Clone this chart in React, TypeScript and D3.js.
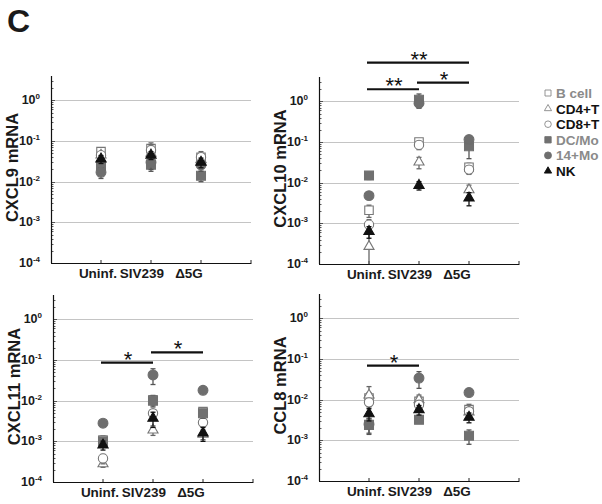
import React, { useEffect, useRef } from "react";
import * as d3 from "d3";

// groups on the x axis
const groups = ["Uninf.", "SIV239", "Δ5G"];
const groupLabelShift = [-3, -9, -12];

// cell types (legend order = draw order)
const cellTypes = ["B cell", "CD4+T", "CD8+T", "DC/Mo", "14+Mo", "NK"];

// mean values, one row per cell type, columns = groups
const cxcl9Mean = [
  [0.055, 0.065, 0.04],
  [0.045, 0.05, 0.035],
  [0.045, 0.06, 0.04],
  [0.025, 0.026, 0.014],
  [0.017, 0.03, 0.026],
  [0.036, 0.045, 0.03],
];
const cxcl9Sem = [
  [0.008, 0.025, 0.015],
  [0.01, 0.01, 0.01],
  [0.01, 0.02, 0.01],
  [0.01, 0.008, 0.004],
  [0.005, 0.01, 0.008],
  [0.008, 0.01, 0.008],
];

const cxcl10Mean = [
  [0.0021, 0.1, 0.024],
  [0.00027, 0.032, 0.0067],
  [0.00093, 0.085, 0.021],
  [0.015, 1.1, 0.079],
  [0.0048, 0.9, 0.115],
  [0.00063, 0.0086, 0.0042],
];
const cxcl10Sem = [
  [0.0007, 0.02, 0.006],
  [0.0004, 0.01, 0.002],
  [0.0003, 0.02, 0.005],
  [0.003, 0.42, 0.04],
  [0.0005, 0.2, 0.01],
  [0.0002, 0.002, 0.0015],
];

const cxcl11Mean = [
  [0.00108, 0.0105, 0.0054],
  [0.00028, 0.0019, 0.0015],
  [0.00038, 0.0049, 0.0029],
  [0.001, 0.01, 0.0049],
  [0.0028, 0.043, 0.018],
  [0.00081, 0.0037, 0.0016],
];
const cxcl11Sem = [
  [0.0003, 0.003, 0.001],
  [0.00005, 0.0005, 0.0004],
  [0.0001, 0.001, 0.0005],
  [0.0002, 0.003, 0.0012],
  [0.0003, 0.018, 0.002],
  [0.0002, 0.0015, 0.0006],
];

const ccl8Mean = [
  [0.011, 0.0091, 0.0057],
  [0.013, 0.01, 0.005],
  [0.0086, 0.0075, 0.0052],
  [0.0024, 0.0032, 0.0013],
  [0.0025, 0.034, 0.015],
  [0.0045, 0.0057, 0.0037],
];
const ccl8Sem = [
  [0.004, 0.003, 0.002],
  [0.008, 0.003, 0.001],
  [0.002, 0.002, 0.001],
  [0.001, 0.0005, 0.0005],
  [0.001, 0.015, 0.002],
  [0.0015, 0.0015, 0.001],
];

// significance brackets: group index from/to, height in data units
const cxcl9Sig = [];
const cxcl10Sig = [
  { from: 0, to: 2, level: 8.95, label: "**" },
  { from: 0, to: 1, level: 1.99, label: "**" },
  { from: 1, to: 2, level: 2.88, label: "*" },
];
const cxcl11Sig = [
  { from: 0, to: 1, level: 0.086, label: "*" },
  { from: 1, to: 2, level: 0.155, label: "*" },
];
const ccl8Sig = [{ from: 0, to: 1, level: 0.0687, label: "*" }];

const yTicks = [1e-4, 1e-3, 1e-2, 1e-1, 1];
const gridTicks = [1e-3, 1e-2, 1e-1, 1];

const FONT = "'Liberation Sans', Arial, Helvetica, sans-serif";

const styles = [
  { shape: d3.symbolSquare, fill: "#fff", stroke: "#777", err: "#666", size: 72, legendColor: "#8a8a8a" },
  { shape: d3.symbolTriangle, fill: "#fff", stroke: "#777", err: "#666", size: 44, legendColor: "#111" },
  { shape: d3.symbolCircle, fill: "#fff", stroke: "#777", err: "#666", size: 68, legendColor: "#111" },
  { shape: d3.symbolSquare, fill: "#707070", stroke: "#707070", err: "#555", size: 80, legendColor: "#8a8a8a" },
  { shape: d3.symbolCircle, fill: "#6e6e6e", stroke: "#6e6e6e", err: "#555", size: 76, legendColor: "#8a8a8a" },
  { shape: d3.symbolTriangle, fill: "#111", stroke: "#111", err: "#111", size: 46, legendColor: "#111" },
];

const panels = [
  { title: "CXCL9 mRNA", mean: cxcl9Mean, sem: cxcl9Sem, sig: cxcl9Sig, left: 51, top: 76, bottom: 263 },
  { title: "CXCL10 mRNA", mean: cxcl10Mean, sem: cxcl10Sem, sig: cxcl10Sig, left: 319, top: 77, bottom: 264 },
  { title: "CXCL11 mRNA", mean: cxcl11Mean, sem: cxcl11Sem, sig: cxcl11Sig, left: 53, top: 295, bottom: 482 },
  { title: "CCL8 mRNA", mean: ccl8Mean, sem: ccl8Sem, sig: ccl8Sig, left: 319, top: 294, bottom: 481 },
];

const App = () => {
  const svgRef = useRef(null);

  useEffect(() => {
    const svg = d3.select(svgRef.current);
    svg.selectAll("*").remove();
    svg.style("font-family", FONT);

    svg
      .append("text")
      .attr("x", 7)
      .attr("y", 32)
      .attr("font-size", 32)
      .attr("font-weight", "bold")
      .attr("fill", "#1a1a1a")
      .text("C");

    panels.forEach((p) => {
      const g = svg.append("g");
      const x = d3.scaleLinear().domain([0, 4]).range([p.left, p.left + 200]);
      const y = d3
        .scaleLog()
        .domain([1e-4, Math.pow(10, 0.6)])
        .range([p.bottom, p.top]);

      // grid
      g.selectAll(".grid")
        .data(gridTicks)
        .join("line")
        .attr("x1", x(0))
        .attr("x2", x(4))
        .attr("y1", (d) => Math.round(y(d)) + 0.5)
        .attr("y2", (d) => Math.round(y(d)) + 0.5)
        .attr("stroke", "#c4c4c4")
        .attr("stroke-width", 1);

      // minor + major ticks on y (inside)
      const minor = [];
      for (let e = -4; e <= 0; e++) {
        for (let m = 1; m <= 9; m++) {
          const v = m * Math.pow(10, e);
          if (v <= Math.pow(10, 0.6)) minor.push(v);
        }
      }
      g.selectAll(".ytick")
        .data(minor)
        .join("line")
        .attr("x1", x(0))
        .attr("x2", (d) => x(0) + (yTicks.includes(d) ? 4 : 2.5))
        .attr("y1", (d) => Math.round(y(d)) + 0.5)
        .attr("y2", (d) => Math.round(y(d)) + 0.5)
        .attr("stroke", "#333")
        .attr("stroke-width", 0.8);

      // x ticks (inside)
      g.selectAll(".xtick")
        .data([1, 2, 3, 4])
        .join("line")
        .attr("x1", (d) => x(d))
        .attr("x2", (d) => x(d))
        .attr("y1", p.bottom)
        .attr("y2", p.bottom - 3)
        .attr("stroke", "#222");

      // axes lines
      g.append("line")
        .attr("x1", x(0) + 0.5)
        .attr("x2", x(0) + 0.5)
        .attr("y1", p.top)
        .attr("y2", p.bottom)
        .attr("stroke", "#111")
        .attr("stroke-width", 1.2);
      g.append("line")
        .attr("x1", x(0))
        .attr("x2", x(4) + 0.5)
        .attr("y1", p.bottom + 0.5)
        .attr("y2", p.bottom + 0.5)
        .attr("stroke", "#111")
        .attr("stroke-width", 1.2);

      // y tick labels 10^n
      yTicks.forEach((t) => {
        const txt = g
          .append("text")
          .attr("x", x(0) - 11)
          .attr("y", y(t) + 4)
          .attr("text-anchor", "end")
          .attr("font-weight", "bold")
          .attr("font-size", 12.5)
          .attr("fill", "#1a1a1a");
        txt.append("tspan").text("10");
        txt
          .append("tspan")
          .attr("font-size", 8)
          .attr("dy", -5)
          .text(String(Math.round(Math.log10(t))));
      });

      // y title
      g.append("text")
        .attr(
          "transform",
          `translate(${x(0) - 39},${(p.top + p.bottom) / 2 - 2}) rotate(-90)`
        )
        .attr("text-anchor", "middle")
        .attr("dy", "0.35em")
        .attr("font-weight", "bold")
        .attr("font-size", 16.5)
        .attr("fill", "#1a1a1a")
        .text(p.title);

      // x labels
      groups.forEach((name, i) => {
        g.append("text")
          .attr("x", x(i + 1) + groupLabelShift[i])
          .attr("y", p.bottom + 15)
          .attr("text-anchor", "middle")
          .attr("font-weight", "bold")
          .attr("font-size", 13.5)
          .attr("fill", "#1a1a1a")
          .text(name);
      });

      // data: error bars then markers
      cellTypes.forEach((ct, s) => {
        const st = styles[s];
        p.mean[s].forEach((m, i) => {
          const se = p.sem[s][i];
          const cx = x(i + 1);
          const hi = y(m + se);
          const lo = m - se > 1e-4 ? y(m - se) : p.bottom;
          g.append("line")
            .attr("x1", cx)
            .attr("x2", cx)
            .attr("y1", hi)
            .attr("y2", lo)
            .attr("stroke", st.err)
            .attr("stroke-width", 1.3);
          [hi, lo].forEach((yy) => {
            if (yy >= p.bottom) return;
            g.append("line")
              .attr("x1", cx - 2.5)
              .attr("x2", cx + 2.5)
              .attr("y1", yy)
              .attr("y2", yy)
              .attr("stroke", st.err)
              .attr("stroke-width", 1.3);
          });
          g.append("path")
            .attr("d", d3.symbol().type(st.shape).size(st.size)())
            .attr("transform", `translate(${cx},${y(m)})`)
            .attr("fill", st.fill)
            .attr("stroke", st.stroke)
            .attr("stroke-width", 1.1);
        });
      });

      // significance brackets
      p.sig.forEach((b) => {
        const yy = y(b.level);
        g.append("line")
          .attr("x1", x(b.from + 1) - 2)
          .attr("x2", x(b.to + 1))
          .attr("y1", yy)
          .attr("y2", yy)
          .attr("stroke", "#111")
          .attr("stroke-width", 2.2);
        g.append("text")
          .attr("x", (x(b.from + 1) + x(b.to + 1)) / 2)
          .attr("y", yy + 4)
          .attr("text-anchor", "middle")
          .attr("font-size", 22)
          .attr("fill", "#111")
          .text(b.label);
      });
    });

    // legend
    const legend = svg.append("g").attr("transform", "translate(548,93)");
    cellTypes.forEach((ct, i) => {
      const st = styles[i];
      const row = legend.append("g").attr("transform", `translate(0,${i * 15.6})`);
      row
        .append("path")
        .attr("d", d3.symbol().type(st.shape).size(st.size * 0.5)())
        .attr("fill", st.fill)
        .attr("stroke", i < 3 ? "#888" : st.stroke)
        .attr("stroke-width", 0.9);
      row
        .append("text")
        .attr("x", 8)
        .attr("y", 5)
        .attr("font-size", 13.5)
        .attr("font-weight", "bold")
        .attr("fill", st.legendColor)
        .text(ct);
    });
  }, []);

  return (
    <div style={{ position: "absolute", left: 0, top: 0, width: 602, height: 504, background: "#fff" }}>
      <svg ref={svgRef} width={602} height={504}></svg>
    </div>
  );
};

export default App;
